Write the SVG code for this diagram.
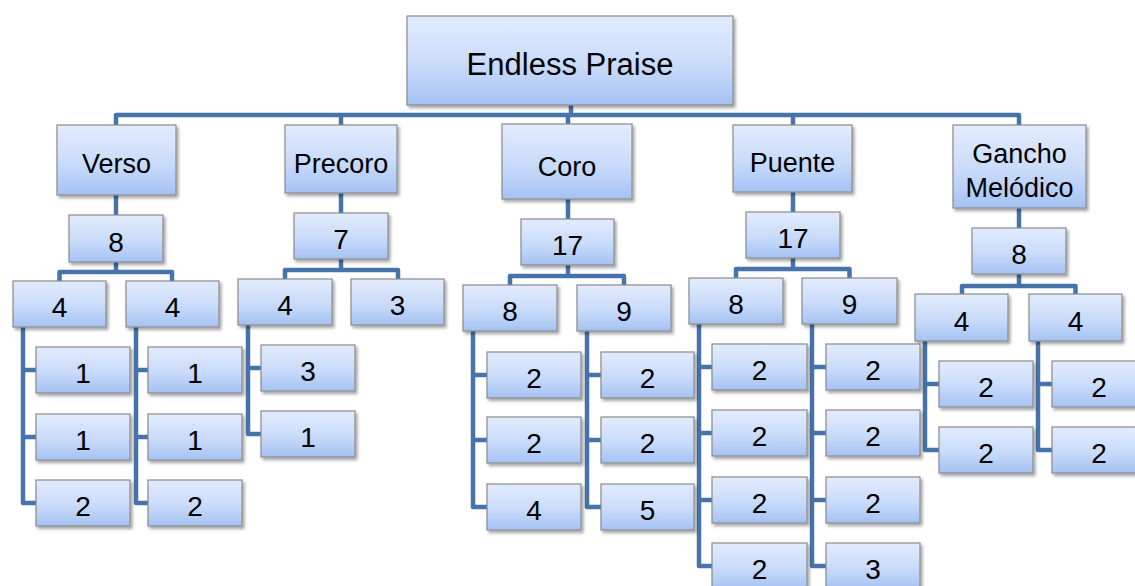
<svg xmlns="http://www.w3.org/2000/svg" width="1135" height="586" viewBox="0 0 1135 586">
  <defs>
    <linearGradient id="boxFill" x1="0" y1="0" x2="0" y2="1">
      <stop offset="0" stop-color="#e3ecfd"/>
      <stop offset="0.55" stop-color="#c9dbfa"/>
      <stop offset="1" stop-color="#a5c2f4"/>
    </linearGradient>
    <filter id="shadow" x="-10%" y="-10%" width="125%" height="135%">
      <feDropShadow dx="2" dy="2.5" stdDeviation="1.6" flood-color="#000" flood-opacity="0.35"/>
    </filter>
  </defs>
  <style>
    .box rect { fill: url(#boxFill); stroke: #8a8a8a; stroke-width: 1.2; filter: url(#shadow); }
    .box text { font-family: "Liberation Sans", Arial, sans-serif; font-size: 27px; fill: #000; text-anchor: middle; }
    .box text.num { font-size: 28px; }
    .box text.title { font-size: 31px; }
    #connectors path { fill: none; stroke: #4674aa; stroke-width: 4.5; stroke-linejoin: round; stroke-linecap: butt; }
  </style>

  <rect width="1135" height="586" fill="#fff"/>

  <g id="connectors">
    <!-- root to sections -->
    <path d="M571,105 V115"/>
    <path d="M116,125 V115 H1019 V125"/>
    <path d="M341,115 V125"/>
    <path d="M568,115 V124"/>
    <path d="M793,115 V125"/>
    <!-- sections to totals -->
    <path d="M116,195 V215"/>
    <path d="M341,193 V213"/>
    <path d="M568,199 V219"/>
    <path d="M793,192 V212"/>
    <path d="M1019,208 V228"/>
    <!-- totals to halves -->
    <path d="M116,262 V272"/>
    <path d="M59.5,281 V272 H172 V281"/>
    <path d="M341,259 V270"/>
    <path d="M285,279 V270 H398 V279"/>
    <path d="M568,265 V276"/>
    <path d="M510,285 V276 H624 V285"/>
    <path d="M793,258 V269"/>
    <path d="M736,278 V269 H849.5 V278"/>
    <path d="M1019,274 V286"/>
    <path d="M962,294 V286 H1075.5 V294"/>
    <!-- Verso leaves -->
    <path d="M23,327 V503 H36 M23,370 H36 M23,437 H36"/>
    <path d="M136,327 V503 H148 M136,370 H148 M136,437 H148"/>
    <!-- Precoro leaves -->
    <path d="M248,325 V434 H261 M248,368 H261"/>
    <!-- Coro leaves -->
    <path d="M473,331 V507 H487 M473,375 H487 M473,440 H487"/>
    <path d="M587,331 V507 H601 M587,375 H601 M587,440 H601"/>
    <!-- Puente leaves -->
    <path d="M699,324 V566 H712 M699,367 H712 M699,433 H712 M699,500 H712"/>
    <path d="M812,324 V566 H826 M812,367 H826 M812,433 H826 M812,500 H826"/>
    <!-- Gancho leaves -->
    <path d="M925,341 V450 H939 M925,384 H939"/>
    <path d="M1038,341 V450 H1052 M1038,384 H1052"/>
  </g>

  <g id="root" class="box"><rect x="407" y="16" width="326" height="89"/><text class="title" x="570" y="75">Endless Praise</text></g>

  <g id="verso" class="box"><rect x="57" y="125" width="119" height="70"/><text x="116.5" y="173">Verso</text></g>
  <g id="precoro" class="box"><rect x="285" y="125" width="112" height="68"/><text x="341" y="173">Precoro</text></g>
  <g id="coro" class="box"><rect x="502" y="124" width="130" height="75"/><text x="567" y="176">Coro</text></g>
  <g id="puente" class="box"><rect x="733" y="125" width="119" height="67"/><text x="792.5" y="172">Puente</text></g>
  <g id="gancho" class="box"><rect x="953" y="125" width="133" height="83"/><text x="1019.5" y="163">Gancho</text><text x="1019.5" y="197">Melódico</text></g>

  <g id="verso-total" class="box"><rect x="69" y="215" width="94" height="47"/><text class="num" x="116" y="252">8</text></g>
  <g id="precoro-total" class="box"><rect x="294" y="213" width="94" height="46"/><text class="num" x="341" y="249">7</text></g>
  <g id="coro-total" class="box"><rect x="521" y="219" width="93" height="46"/><text class="num" x="567.5" y="255">17</text></g>
  <g id="puente-total" class="box"><rect x="746" y="212" width="94" height="46"/><text class="num" x="793" y="248">17</text></g>
  <g id="gancho-total" class="box"><rect x="972" y="228" width="94" height="46"/><text class="num" x="1019" y="264">8</text></g>

  <g id="verso-a" class="box"><rect x="13" y="281" width="93" height="46"/><text class="num" x="59.5" y="317">4</text></g>
  <g id="verso-b" class="box"><rect x="126" y="281" width="93" height="46"/><text class="num" x="172.5" y="317">4</text></g>
  <g id="precoro-a" class="box"><rect x="238" y="279" width="94" height="46"/><text class="num" x="285" y="315">4</text></g>
  <g id="precoro-b" class="box"><rect x="351" y="279" width="93" height="46"/><text class="num" x="397.5" y="315">3</text></g>
  <g id="coro-a" class="box"><rect x="463" y="285" width="94" height="46"/><text class="num" x="510" y="321">8</text></g>
  <g id="coro-b" class="box"><rect x="577" y="285" width="94" height="46"/><text class="num" x="624" y="321">9</text></g>
  <g id="puente-a" class="box"><rect x="689" y="278" width="94" height="46"/><text class="num" x="736" y="314">8</text></g>
  <g id="puente-b" class="box"><rect x="802" y="278" width="95" height="46"/><text class="num" x="849.5" y="314">9</text></g>
  <g id="gancho-a" class="box"><rect x="915" y="294" width="93" height="47"/><text class="num" x="961.5" y="331">4</text></g>
  <g id="gancho-b" class="box"><rect x="1029" y="294" width="93" height="47"/><text class="num" x="1075.5" y="331">4</text></g>

  <!-- Verso bars -->
  <g id="verso-a1" class="box"><rect x="36" y="347" width="94" height="46"/><text class="num" x="83" y="383">1</text></g>
  <g id="verso-a2" class="box"><rect x="36" y="414" width="94" height="46"/><text class="num" x="83" y="450">1</text></g>
  <g id="verso-a3" class="box"><rect x="36" y="480" width="94" height="46"/><text class="num" x="83" y="516">2</text></g>
  <g id="verso-b1" class="box"><rect x="148" y="347" width="94" height="46"/><text class="num" x="195" y="383">1</text></g>
  <g id="verso-b2" class="box"><rect x="148" y="414" width="94" height="46"/><text class="num" x="195" y="450">1</text></g>
  <g id="verso-b3" class="box"><rect x="148" y="480" width="94" height="46"/><text class="num" x="195" y="516">2</text></g>

  <!-- Precoro bars -->
  <g id="precoro-a1" class="box"><rect x="261" y="345" width="94" height="46"/><text class="num" x="308" y="381">3</text></g>
  <g id="precoro-a2" class="box"><rect x="261" y="411" width="94" height="46"/><text class="num" x="308" y="447">1</text></g>

  <!-- Coro bars -->
  <g id="coro-a1" class="box"><rect x="487" y="352" width="94" height="46"/><text class="num" x="534" y="388">2</text></g>
  <g id="coro-a2" class="box"><rect x="487" y="417" width="94" height="46"/><text class="num" x="534" y="453">2</text></g>
  <g id="coro-a3" class="box"><rect x="487" y="484" width="94" height="46"/><text class="num" x="534" y="520">4</text></g>
  <g id="coro-b1" class="box"><rect x="601" y="352" width="93" height="46"/><text class="num" x="647.5" y="388">2</text></g>
  <g id="coro-b2" class="box"><rect x="601" y="417" width="93" height="46"/><text class="num" x="647.5" y="453">2</text></g>
  <g id="coro-b3" class="box"><rect x="601" y="484" width="93" height="46"/><text class="num" x="647.5" y="520">5</text></g>

  <!-- Puente bars -->
  <g id="puente-a1" class="box"><rect x="712" y="344" width="95" height="46"/><text class="num" x="759.5" y="380">2</text></g>
  <g id="puente-a2" class="box"><rect x="712" y="410" width="95" height="46"/><text class="num" x="759.5" y="446">2</text></g>
  <g id="puente-a3" class="box"><rect x="712" y="477" width="95" height="46"/><text class="num" x="759.5" y="513">2</text></g>
  <g id="puente-a4" class="box"><rect x="712" y="543" width="95" height="46"/><text class="num" x="759.5" y="579">2</text></g>
  <g id="puente-b1" class="box"><rect x="826" y="344" width="94" height="46"/><text class="num" x="873" y="380">2</text></g>
  <g id="puente-b2" class="box"><rect x="826" y="410" width="94" height="46"/><text class="num" x="873" y="446">2</text></g>
  <g id="puente-b3" class="box"><rect x="826" y="477" width="94" height="46"/><text class="num" x="873" y="513">2</text></g>
  <g id="puente-b4" class="box"><rect x="826" y="543" width="94" height="46"/><text class="num" x="873" y="579">3</text></g>

  <!-- Gancho bars -->
  <g id="gancho-a1" class="box"><rect x="939" y="361" width="94" height="46"/><text class="num" x="986" y="397">2</text></g>
  <g id="gancho-a2" class="box"><rect x="939" y="427" width="94" height="46"/><text class="num" x="986" y="463">2</text></g>
  <g id="gancho-b1" class="box"><rect x="1052" y="361" width="94" height="46"/><text class="num" x="1099" y="397">2</text></g>
  <g id="gancho-b2" class="box"><rect x="1052" y="427" width="94" height="46"/><text class="num" x="1099" y="463">2</text></g>
</svg>
